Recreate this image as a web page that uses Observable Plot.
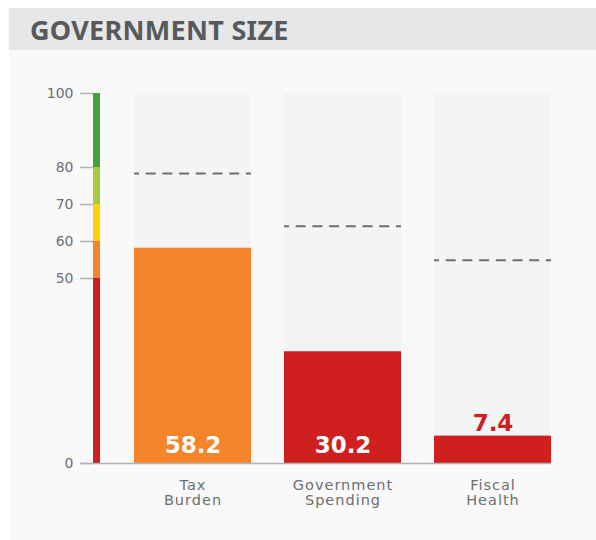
<!DOCTYPE html>
<html>
<head>
<meta charset="utf-8">
<script src="https://cdn.jsdelivr.net/npm/d3@7"></script>
<script src="https://cdn.jsdelivr.net/npm/@observablehq/plot@0.6"></script>
<style>
  html, body { margin: 0; padding: 0; background: #ffffff; }
  #panel { position: absolute; left: 9px; top: 8px; width: 587px; height: 532px; background: #f9f9f9; }
  #title { height: 42px; background: #e6e7e8; font-family: "Noto Sans", sans-serif; font-weight: bold; font-size: 27px; color: #58595b; padding-left: 21px; line-height: 44px; letter-spacing: 0.3px; }
  #chart svg { display: block; }
  #chart svg text { font-family: "DejaVu Sans", sans-serif; }
  #chart svg g[aria-label="y-axis tick label"] { font-size: 14px; }
  #chart svg g[aria-label="x-axis tick label"] { font-size: 14.5px; letter-spacing: 1px; }
</style>
</head>
<body>
<div id="panel">
  <div id="title">GOVERNMENT SIZE</div>
  <div id="chart"></div>
</div>
<script>
const categories = ["Tax Burden", "Government Spending", "Fiscal Health"];
const categoryLabels = ["Tax\nBurden", "Government\nSpending", "Fiscal\nHealth"];
const scores = [58.2, 30.2, 7.4];
const averages = [78.4, 64.1, 54.9];
const scoreMax = 100;
const bandLows = [0, 50, 60, 70, 80];
const bandHighs = [50, 60, 70, 80, 100];
const bandColors = ["#cf1f1f", "#f5842a", "#fdd20a", "#a5cd39", "#44a13f"];
const yTicks = [0, 50, 60, 70, 80, 100];

const bands = bandLows.map((lo, i) => ({lo, hi: bandHighs[i], color: bandColors[i]}));
const colorFor = v => bands.find(b => v >= b.lo && v < b.hi).color;
const data = categories.map((name, i) => ({name, score: scores[i], avg: averages[i], color: colorFor(scores[i])}));
const inside = data.filter(d => d.score >= 15);
const outside = data.filter(d => d.score < 15);

const chart = Plot.plot({
  width: 587,
  height: 490,
  marginTop: 43,
  marginBottom: 77,
  marginLeft: 71,
  marginRight: 45,
  style: {background: "transparent", overflow: "visible"},
  x: {type: "band", domain: categories, range: [124, 542], paddingInner: 0.223, paddingOuter: 0},
  y: {domain: [0, scoreMax]},
  color: {type: "identity"},
  marks: [
    Plot.barY(data, {x: "name", y: () => scoreMax, fill: "#f3f4f4"}),
    Plot.barY(data, {x: "name", y: "score", fill: "color"}),
    Plot.tickY(data, {x: "name", y: "avg", stroke: "#6d6e71", strokeWidth: 2, strokeDasharray: "10,6.7", strokeDashoffset: 5}),
    Plot.rect(bands, {y1: "lo", y2: "hi", fill: "color", insetLeft: 13, insetRight: 451}),
    Plot.ruleY(yTicks, {stroke: "#b3b3b3", strokeWidth: 1.5, insetRight: 458}),
    Plot.ruleY([0], {stroke: "#b3b3b3", strokeWidth: 1.5}),
    Plot.axisY({ticks: yTicks, tickSize: 0, tickPadding: 7, fontSize: 14, color: "#6d6e71", label: null}),
    Plot.axisX({tickSize: 0, tickPadding: 16, fontSize: 14.5, lineHeight: 1.03, color: "#6d6e71", label: null,
      tickFormat: d => categoryLabels[categories.indexOf(d)]}),
    Plot.text(inside, {x: "name", y: 0, text: d => d.score.toFixed(1), fill: "white", fontWeight: "bold", fontSize: 23, dy: -18}),
    Plot.text(outside, {x: "name", y: "score", text: d => d.score.toFixed(1), fill: "color", fontWeight: "bold", fontSize: 23, dy: -12})
  ]
});
document.getElementById("chart").appendChild(chart);
</script>
</body>
</html>
